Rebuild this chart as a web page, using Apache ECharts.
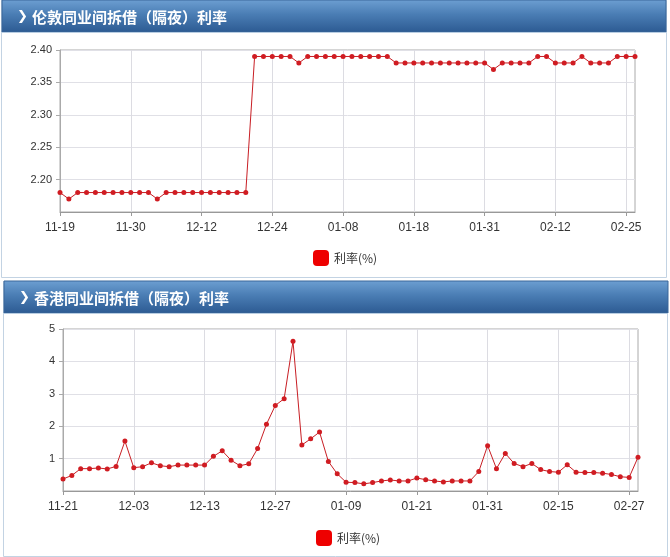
<!DOCTYPE html>
<html>
<head>
<meta charset="utf-8">
<script src="https://cdn.jsdelivr.net/npm/echarts@6/dist/echarts.min.js"></script>
<style>
html,body{margin:0;padding:0;background:#fff;}
#chart{width:670px;height:557px;}
</style>
</head>
<body>
<div id="chart"></div>
<script>
// ---- Data ----
var londonTitle = '伦敦同业间拆借（隔夜）利率';
var hkTitle = '香港同业间拆借（隔夜）利率';
var seriesName = '利率(%)';

var londonDates = ['11-19','11-20','11-21','11-23','11-26','11-27','11-28','11-29','11-30',
  '12-03','12-04','12-05','12-06','12-07','12-10','12-11','12-12',
  '12-13','12-14','12-17','12-18','12-19','12-20','12-21','12-24',
  '12-27','12-28','12-31','01-02','01-03','01-04','01-07','01-08',
  '01-09','01-10','01-11','01-14','01-15','01-16','01-17','01-18',
  '01-22','01-23','01-24','01-25','01-28','01-29','01-30','01-31',
  '02-01','02-04','02-05','02-06','02-07','02-08','02-11','02-12',
  '02-13','02-14','02-15','02-19','02-20','02-21','02-22','02-25','02-26'];
var londonValues = [2.18,2.17,2.18,2.18,2.18,2.18,2.18,2.18,2.18,2.18,2.18,2.17,
  2.18,2.18,2.18,2.18,2.18,2.18,2.18,2.18,2.18,2.18,
  2.39,2.39,2.39,2.39,2.39,2.38,
  2.39,2.39,2.39,2.39,2.39,2.39,2.39,2.39,2.39,2.39,
  2.38,2.38,2.38,2.38,2.38,2.38,2.38,2.38,2.38,2.38,2.38,
  2.37,2.38,2.38,2.38,2.38,2.39,2.39,2.38,2.38,2.38,2.39,2.38,2.38,2.38,2.39,2.39,2.39];

var hkDates = ['11-21','11-22','11-23','11-26','11-27','11-28','11-29','11-30','12-03',
  '12-04','12-05','12-06','12-07','12-10','12-11','12-12','12-13',
  '12-14','12-17','12-18','12-19','12-20','12-21','12-24','12-27',
  '12-28','12-31','01-02','01-03','01-04','01-07','01-08','01-09',
  '01-10','01-11','01-14','01-15','01-16','01-17','01-18','01-21',
  '01-22','01-23','01-24','01-25','01-28','01-29','01-30','01-31',
  '02-01','02-04','02-08','02-11','02-12','02-13','02-14','02-15',
  '02-18','02-19','02-20','02-21','02-22','02-25','02-26','02-27','02-28'];
var hkValues = [0.37,0.48,0.69,0.69,0.71,0.68,0.76,1.54,0.72,0.75,0.87,0.78,0.75,0.80,0.80,0.80,0.80,
  1.07,1.24,0.95,0.78,0.84,1.31,2.06,2.64,2.85,4.62,1.42,1.61,1.82,0.91,0.53,0.27,
  0.26,0.22,0.26,0.31,0.34,0.31,0.31,0.40,0.35,0.31,0.28,0.31,0.31,0.31,0.60,1.40,
  0.69,1.16,0.85,0.75,0.85,0.66,0.60,0.58,0.81,0.58,0.57,0.57,0.55,0.51,0.44,0.42,1.04];

var londonY = {min: 2.15, max: 2.40, interval: 0.05};
var hkY = {min: 0, max: 5, interval: 1};

// ---- Chart ----
var chart = echarts.init(document.getElementById('chart'), null, {renderer: 'canvas'});
var FONT = '"Liberation Sans", Arial, sans-serif';
var CJK = '"Noto Sans CJK SC", "Microsoft YaHei", sans-serif';

function headerGroup(x, y, w, h, title) {
  return {
    type: 'group', x: x, y: y, children: [
      {type: 'rect', shape: {x: 0, y: 0, width: w, height: h},
        style: {fill: new echarts.graphic.LinearGradient(0, 0, 0, 1, [
          {offset: 0, color: '#6d9fd2'}, {offset: 0.45, color: '#4a7db4'}, {offset: 1, color: '#2c5a92'}]),
          stroke: '#3a6699', lineWidth: 1}},
      {type: 'rect', shape: {x: 0, y: h, width: w, height: 1}, style: {fill: '#b8cde2'}},
      {type: 'text', x: 15, y: h / 2 + 1, style: {text: '\u276F', fill: '#fff', font: 'bold 13px "DejaVu Sans"', verticalAlign: 'middle'}},
      {type: 'text', x: 30, y: h / 2 + 1, style: {text: title, fill: '#fff', font: 'bold 15px ' + CJK, verticalAlign: 'middle'}}
    ]
  };
}

function xAxisCfg(cats, gi) {
  return {
    type: 'category', gridIndex: gi, data: cats, boundaryGap: false,
    axisLine: {lineStyle: {color: '#999'}},
    axisTick: {interval: 7, length: 4, lineStyle: {color: '#999'}},
    axisLabel: {interval: 7, color: '#333', fontSize: 12, fontFamily: FONT, margin: 10},
    splitLine: {show: true, interval: 7, lineStyle: {color: '#dcdce2'}}
  };
}
function yAxisCfg(cfg, gi, digits) {
  return {
    type: 'value', gridIndex: gi, min: cfg.min, max: cfg.max, interval: cfg.interval,
    axisLine: {show: true, lineStyle: {color: '#aaa'}},
    axisTick: {show: true, length: 4, lineStyle: {color: '#aaa'}},
    axisLabel: {showMinLabel: false, color: '#333', fontSize: 11, fontFamily: FONT, margin: 8,
      formatter: function (v) { return v.toFixed(digits); }},
    splitLine: {lineStyle: {color: '#e0e0e6'}}
  };
}
function lineSeries(name, vals, gi) {
  return {
    type: 'line', name: name, xAxisIndex: gi, yAxisIndex: gi, data: vals,
    symbol: 'circle', symbolSize: 5, showAllSymbol: true,
    lineStyle: {color: '#c81e24', width: 1},
    itemStyle: {color: '#d01c22'},
    emphasis: {disabled: true}, animation: false
  };
}

var option = {
  animation: false,
  backgroundColor: '#fff',
  graphic: [
    {type: 'rect', shape: {x: 1.5, y: 0.5, width: 665, height: 277}, style: {fill: '#fff', stroke: '#c3d3e3', lineWidth: 1}, z: -10},
    {type: 'rect', shape: {x: 3.5, y: 281.5, width: 664, height: 275}, style: {fill: '#fff', stroke: '#c3d3e3', lineWidth: 1}, z: -10},
    headerGroup(2, 0, 664, 32, londonTitle),
    headerGroup(4, 281, 664, 32, hkTitle)
  ],
  legend: [
    {data: [seriesName], left: 308, top: 245, icon: 'roundRect', itemWidth: 16, itemHeight: 16, itemGap: 6,
      selectedMode: false, textStyle: {color: '#333', fontSize: 12, fontFamily: CJK},
      itemStyle: {color: '#ee0000'}},
    {data: [seriesName + ' '], left: 311, top: 525, icon: 'roundRect', itemWidth: 16, itemHeight: 16, itemGap: 6,
      selectedMode: false, textStyle: {color: '#333', fontSize: 12, fontFamily: CJK},
      formatter: function (n) { return n.trim(); },
      itemStyle: {color: '#ee0000'}}
  ],
  grid: [
    {left: 60, right: 35, top: 50, height: 162, show: true, borderColor: '#aaa', borderWidth: 1, backgroundColor: 'transparent'},
    {left: 63, right: 32, top: 329, height: 162, show: true, borderColor: '#aaa', borderWidth: 1, backgroundColor: 'transparent'}
  ],
  xAxis: [xAxisCfg(londonDates, 0), xAxisCfg(hkDates, 1)],
  yAxis: [yAxisCfg(londonY, 0, 2), yAxisCfg(hkY, 1, 0)],
  series: [lineSeries(seriesName, londonValues, 0), lineSeries(seriesName + ' ', hkValues, 1)]
};
chart.setOption(option);
</script>
</body>
</html>
